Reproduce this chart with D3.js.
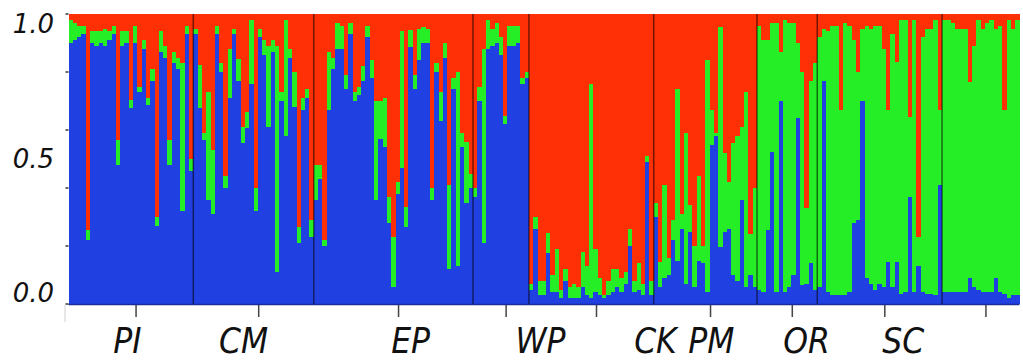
<!DOCTYPE html>
<html>
<head>
<meta charset="utf-8">
<script src="https://cdn.jsdelivr.net/npm/d3@7"></script>
<style>
  html, body { margin: 0; padding: 0; background: #fff; }
  svg { display: block; }
</style>
</head>
<body>
<svg id="chart" width="1023" height="360"></svg>
<script>
// ---------------- DATA ----------------
// number of individuals per sampled group (left to right)
const groupSizes = [29, 28, 37, 13, 29, 24, 14, 29, 18];

// population labels and the individual index they sit under
const popLabels = ["PI", "CM", "EP", "WP", "CK", "PM", "OR", "SC"];
const popLabelAnchor = [13.7, 40.7, 79.5, 109.7, 136.4, 149.4, 171.5, 194.0];

// y tick labels
const yTickValues = [0, 0.5, 1];
const yTickLabels = ["0.0", "0.5", "1.0"];
const yMinorTicks = [0, 0.2, 0.4, 0.6, 0.8, 1.0];

// membership coefficients (cluster 1 = blue, bottom)
const qBlue = [
  // PI
  .90,.91,.92,.93,.22,.90,.89,.90,.89,.91,.93,.48,.89,.90,.675,.90,.73,.88,.685,.77,.27,.87,.85,.48,.83,.81,.32,.93,.46,
  // CM
  .93,.676,.566,.36,.31,.93,.80,.40,.71,.93,.77,.555,.607,.76,.32,.92,.86,.61,.87,.11,.70,.58,.85,.68,.21,.67,.71,.23,
  // EP
  .36,.43,.20,.67,.81,.88,.88,.74,.93,.70,.72,.77,.92,.78,.36,.57,.54,.28,.06,.38,.47,.265,.885,.74,.84,.90,.90,.36,.80,.63,.85,.12,.74,.13,.54,.35,.40,
  // group 4
  .37,.70,.21,.88,.89,.90,.86,.62,.89,.89,.90,.76,.78,
  // WP
  .05,.26,.03,.03,.175,.04,.04,.02,.08,.02,.02,.02,.06,.03,.02,.04,.03,.02,.03,.04,.06,.04,.07,.20,.04,.05,.03,.49,.03,
  // group 6
  .30,.06,.09,.10,.22,.15,.26,.07,.25,.06,.15,.14,.04,.55,.58,.195,.25,.26,.10,.08,.36,.06,.10,.06,
  // OR
  .05,.04,.255,.525,.04,.70,.04,.06,.10,.64,.065,.07,.14,.05,
  // SC
  .06,.77,.04,.03,.03,.03,.03,.04,.28,.29,.70,.09,.07,.05,.07,.06,.145,.06,.145,.035,.04,.37,.04,.13,.04,.035,.035,.03,.41,
  // group 9
  .04,.04,.04,.04,.04,.04,.09,.06,.05,.04,.04,.04,.09,.04,.035,.02,.03,.03
];
// cluster 2 = green, middle
const qGreen = [
  .08,.06,.04,.03,.035,.04,.05,.04,.06,.03,.03,.085,.05,.04,.03,.06,.02,.03,.025,.04,.03,.07,.04,.085,.04,.04,.51,.03,.04,
  .02,.148,.025,.37,.22,.03,.03,.04,.17,.02,.075,.055,.055,.22,.08,.03,.05,.28,.04,.78,.03,.40,.03,.12,.055,.04,.03,.06,
  .12,.05,.02,.20,.04,.09,.08,.05,.04,.03,.03,.05,.04,.06,.34,.13,.17,.09,.17,.04,.47,.07,.06,.05,.11,.055,.05,.04,.03,.10,.05,.29,.04,.67,.05,.21,.05,
  .03,.05,.67,.10,.06,.07,.06,.03,.07,.07,.06,.02,.02,
  .02,.04,.05,.05,.07,.06,.15,.03,.04,.04,.05,.04,.12,.10,.74,.15,.06,.01,.05,.08,.06,.05,.04,.06,.04,.09,.04,.02,.05,
  .05,.085,.32,.06,.07,.59,.05,.52,.09,.14,.29,.06,.80,.12,.01,.76,.27,.16,.455,.50,.25,.67,.14,.34,
  .91,.87,.655,.445,.93,.17,.94,.91,.87,.26,.735,.26,.63,.78,
  .86,.18,.90,.93,.93,.64,.94,.92,.63,.51,.25,.87,.88,.91,.89,.82,.525,.87,.69,.945,.94,.275,.94,.10,.88,.915,.915,.95,.26,
  .94,.94,.93,.91,.91,.91,.675,.83,.93,.91,.93,.94,.86,.92,.635,.96,.92,.95
];
// cluster 3 = red, top
const qRed = [
  .02,.03,.04,.04,.745,.06,.06,.06,.05,.06,.04,.435,.06,.06,.295,.04,.25,.09,.29,.19,.70,.06,.11,.435,.13,.15,.17,.04,.50,
  .05,.176,.409,.27,.47,.04,.17,.56,.12,.05,.155,.39,.338,.02,.60,.05,.09,.11,.09,.11,.27,.02,.12,.20,.735,.29,.26,.71,
  .52,.52,.78,.13,.15,.03,.04,.21,.03,.27,.25,.18,.04,.16,.30,.30,.29,.63,.77,.58,.06,.665,.055,.21,.05,.045,.05,.60,.17,.27,.10,.59,.22,.20,.41,.44,.55,
  .60,.25,.12,.02,.05,.03,.08,.35,.04,.04,.04,.22,.20,
  .93,.70,.92,.92,.755,.90,.81,.95,.88,.94,.93,.94,.82,.87,.24,.81,.91,.97,.92,.88,.88,.91,.89,.74,.92,.86,.93,.49,.92,
  .65,.855,.59,.84,.71,.26,.69,.41,.66,.80,.56,.80,.16,.33,.41,.045,.48,.58,.445,.42,.39,.27,.76,.60,
  .04,.09,.09,.03,.03,.13,.02,.03,.03,.10,.20,.67,.23,.17,
  .08,.05,.06,.04,.04,.33,.03,.04,.09,.20,.05,.04,.05,.04,.04,.12,.33,.07,.165,.02,.02,.355,.02,.77,.08,.05,.05,.02,.33,
  .02,.02,.03,.05,.05,.05,.235,.11,.02,.05,.03,.02,.05,.04,.33,.02,.05,.02
];

// ---------------- CHART ----------------
const W = 1023, H = 360;
const plot = { left: 68.5, right: 1019.5, top: 14, bottom: 304 };
const colors = { blue: "#2140e2", green: "#26ee26", red: "#ff2f06" };

const N = qBlue.length;
const rows = d3.range(N).map(i => ({ i, blue: qBlue[i], green: qGreen[i], red: qRed[i] }));

const svg = d3.select("#chart");

const x = d3.scaleBand().domain(d3.range(N)).range([plot.left, plot.right]).paddingInner(0).paddingOuter(0);
const xi = d3.scaleLinear().domain([0, N]).range([plot.left, plot.right]);
const y = d3.scaleLinear().domain([0, 1]).range([plot.bottom, plot.top]);

const stack = d3.stack().keys(["blue", "green", "red"]);
const series = stack(rows);

svg.append("g")
  .selectAll("g")
  .data(series)
  .join("g")
  .attr("fill", d => colors[d.key])
  .selectAll("rect")
  .data(d => d)
  .join("rect")
  .attr("shape-rendering", "crispEdges")
  .attr("x", d => x(d.data.i))
  .attr("width", x.bandwidth())
  .attr("y", d => y(Math.min(1, d[1])))
  .attr("height", d => Math.max(0, y(d[0]) - y(Math.min(1, d[1]))));

// group separators
const bounds = d3.cumsum(groupSizes).slice(0, -1);
svg.append("g")
  .selectAll("line")
  .data(bounds)
  .join("line")
  .attr("x1", d => xi(d)).attr("x2", d => xi(d))
  .attr("y1", plot.top).attr("y2", plot.bottom)
  .attr("stroke", "#000").attr("stroke-opacity", 0.55).attr("stroke-width", 1.5);

// bottom edge line
svg.append("line")
  .attr("x1", plot.left).attr("x2", plot.right)
  .attr("y1", plot.bottom + 0.5).attr("y2", plot.bottom + 0.5)
  .attr("stroke", "#1a2c9c").attr("stroke-width", 1.5);

// y minor ticks
svg.append("g")
  .selectAll("line")
  .data(yMinorTicks)
  .join("line")
  .attr("x1", plot.left - 3).attr("x2", plot.left)
  .attr("y1", d => y(d)).attr("y2", d => y(d))
  .attr("stroke", "#333").attr("stroke-width", 1.5);

// y labels
const yLabelShift = [-2, 9, 19];
svg.append("g")
  .selectAll("text")
  .data(yTickValues)
  .join("text")
  .attr("x", 54)
  .attr("y", (d, k) => y(d) + yLabelShift[k])
  .attr("text-anchor", "end")
  .attr("font-family", "'DejaVu Sans', sans-serif")
  .attr("font-style", "italic")
  .attr("font-size", 26)
  .attr("fill", "#111")
  .text((d, k) => yTickLabels[k]);

// x axis ticks at group centres
const starts = [0, ...bounds];
const tickPos = groupSizes.map((n, k) => starts[k] + n / 2 + 1.2);
svg.append("line")
  .attr("x1", 65).attr("x2", 65).attr("y1", 305).attr("y2", 322)
  .attr("stroke", "#d0d0d0").attr("stroke-width", 1);
svg.append("g")
  .selectAll("line")
  .data(tickPos)
  .join("line")
  .attr("x1", d => xi(d)).attr("x2", d => xi(d))
  .attr("y1", 305).attr("y2", 317)
  .attr("stroke", "#444").attr("stroke-width", 1.5);

// population labels
svg.append("g")
  .selectAll("text")
  .data(popLabels)
  .join("text")
  .attr("x", (d, k) => xi(popLabelAnchor[k]))
  .attr("y", 353)
  .attr("text-anchor", "middle")
  .attr("font-family", "'DejaVu Sans Condensed', 'DejaVu Sans', sans-serif")
  .attr("font-stretch", "condensed")
  .attr("font-style", "italic")
  .attr("font-size", 35)
  .attr("fill", "#111")
  .text(d => d);
</script>
</body>
</html>
